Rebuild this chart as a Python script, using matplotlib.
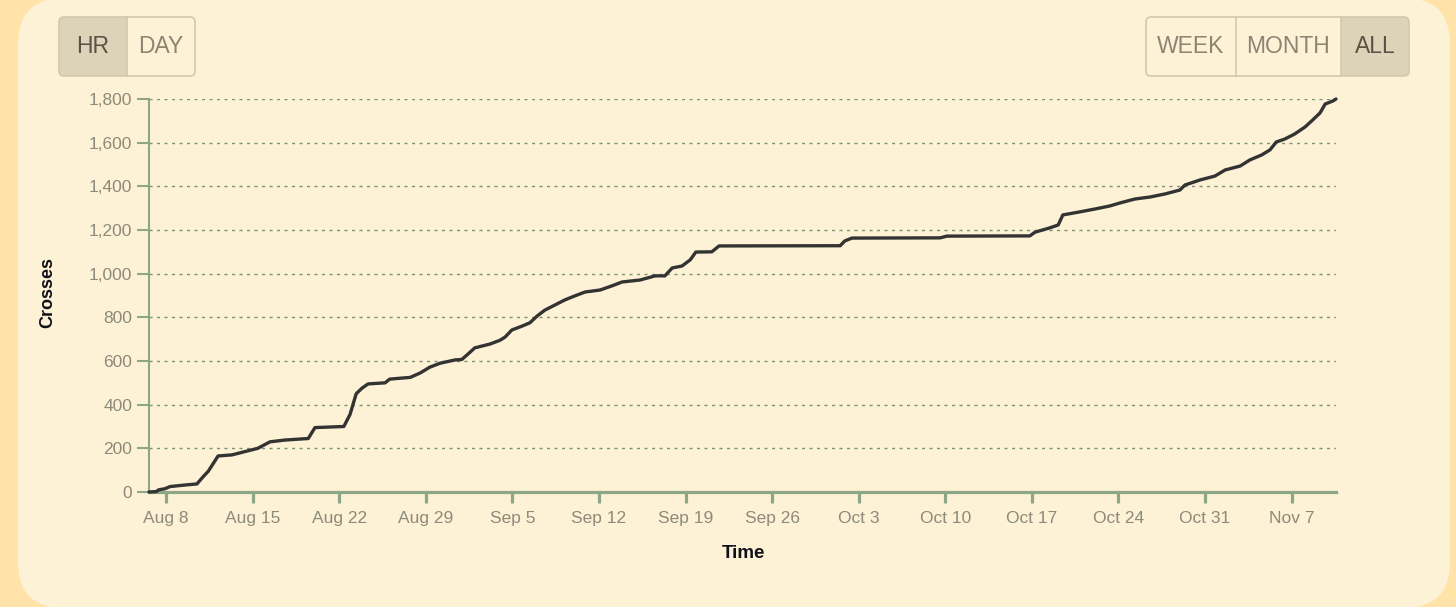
import matplotlib
matplotlib.use("Agg")
import matplotlib.pyplot as plt
from matplotlib.patches import FancyBboxPatch, Rectangle
from matplotlib.transforms import Affine2D
import pandas as pd

# ---------------- data ----------------
times = [
    "2022-08-06 15:00", "2022-08-07 05:00", "2022-08-07 10:00", "2022-08-07 22:00",
    "2022-08-08 08:00", "2022-08-09 13:00", "2022-08-10 12:00", "2022-08-11 00:00",
    "2022-08-11 10:00", "2022-08-12 05:00", "2022-08-13 08:00", "2022-08-14 09:00",
    "2022-08-15 10:00", "2022-08-16 10:00", "2022-08-17 15:00", "2022-08-19 12:00",
    "2022-08-20 01:00", "2022-08-22 09:00", "2022-08-22 21:00", "2022-08-23 09:00",
    "2022-08-23 20:00", "2022-08-24 08:00", "2022-08-25 17:00", "2022-08-26 02:00",
    "2022-08-27 18:00", "2022-08-28 13:00", "2022-08-29 08:00", "2022-08-30 04:00",
    "2022-08-31 09:00", "2022-08-31 22:00", "2022-09-01 10:00", "2022-09-01 23:00",
    "2022-09-03 05:00", "2022-09-04 00:00", "2022-09-04 10:00", "2022-09-04 23:00",
    "2022-09-05 19:00", "2022-09-06 10:00", "2022-09-07 00:00", "2022-09-07 15:00",
    "2022-09-08 11:00", "2022-09-09 06:00", "2022-09-10 01:00", "2022-09-10 21:00",
    "2022-09-12 02:00", "2022-09-13 01:00", "2022-09-13 21:00", "2022-09-15 08:00",
    "2022-09-16 13:00", "2022-09-17 08:00", "2022-09-17 22:00", "2022-09-18 17:00",
    "2022-09-19 09:00", "2022-09-19 20:00", "2022-09-21 03:00", "2022-09-21 17:00",
    "2022-10-01 12:00", "2022-10-01 21:00", "2022-10-02 11:00", "2022-10-09 14:00",
    "2022-10-10 03:00", "2022-10-16 20:00", "2022-10-17 06:00", "2022-10-18 11:00",
    "2022-10-19 03:00", "2022-10-19 12:00", "2022-10-20 21:00", "2022-10-22 02:00",
    "2022-10-23 07:00", "2022-10-24 03:00", "2022-10-25 08:00", "2022-10-26 13:00",
    "2022-10-27 18:00", "2022-10-28 23:00", "2022-10-29 09:00", "2022-10-30 14:00",
    "2022-10-31 19:00", "2022-11-01 15:00", "2022-11-02 20:00", "2022-11-03 15:00",
    "2022-11-04 14:00", "2022-11-05 06:00", "2022-11-05 18:00", "2022-11-06 11:00",
    "2022-11-07 06:00", "2022-11-08 02:00", "2022-11-08 15:00", "2022-11-09 07:00",
    "2022-11-09 17:00", "2022-11-10 08:00", "2022-11-10 14:00",
]
crosses = [
    0, 2, 10, 15,
    25, 32, 37, 70,
    95, 165, 170, 185,
    200, 230, 238, 245,
    295, 300, 355, 450,
    475, 495, 500, 517,
    525, 545, 572, 590,
    605, 607, 632, 660,
    678, 695, 710, 742,
    760, 775, 806, 833,
    857, 880, 898, 916,
    925, 944, 962, 971,
    990, 990, 1026, 1035,
    1063, 1099, 1100, 1127,
    1128, 1150, 1163, 1164,
    1172, 1173, 1190, 1210,
    1223, 1269, 1283, 1296,
    1310, 1324, 1342, 1351,
    1365, 1383, 1406, 1429,
    1447, 1475, 1493, 1521,
    1544, 1567, 1603, 1617,
    1640, 1672, 1700, 1736,
    1777, 1791, 1800,
]
x_tick_dates = ["2022-08-08", "2022-08-15", "2022-08-22", "2022-08-29", "2022-09-05",
                "2022-09-12", "2022-09-19", "2022-09-26", "2022-10-03", "2022-10-10",
                "2022-10-17", "2022-10-24", "2022-10-31", "2022-11-07"]
x_tick_labels = ["Aug 8", "Aug 15", "Aug 22", "Aug 29", "Sep 5", "Sep 12", "Sep 19",
                 "Sep 26", "Oct 3", "Oct 10", "Oct 17", "Oct 24", "Oct 31", "Nov 7"]
y_ticks = [0, 200, 400, 600, 800, 1000, 1200, 1400, 1600, 1800]
y_tick_labels = ["0", "200", "400", "600", "800", "1,000", "1,200", "1,400", "1,600", "1,800"]
left_buttons = ["HR", "DAY"]
right_buttons = ["WEEK", "MONTH", "ALL"]
x_range = ["2022-08-06 15:00", "2022-11-10 14:00"]
y_range = [0, 1800]

# ---------------- style ----------------
W, H = 1456, 607
OUTER = "#FFE3A9"
PANEL = "#FEF2D6"
AXC = "#8EA688"
GRIDC = "#7A9474"
TICKTXT = "#8C8A7A"
BTN_FILL = "#DDD3B8"
BTN_EDGE = "#D3C9AD"
BTN_TXT_ON = "#5A5245"
BTN_TXT_OFF = "#8C8573"

plt.rcParams['font.family'] = ['Liberation Sans', 'DejaVu Sans']

fig = plt.figure(figsize=(W / 100, H / 100), dpi=100, facecolor=OUTER)
# pixel transform with top-left origin
pix = Affine2D().scale(1 / 100, -1 / 100).translate(0, H / 100) + fig.dpi_scale_trans

panel = FancyBboxPatch((18, -2), 1432, 610, boxstyle="round,pad=0,rounding_size=46",
                       transform=pix, facecolor=PANEL, edgecolor="none", zorder=-10)
fig.patches.append(panel)


def button_group(x0, x1, y0, y1, dividers, labels, selected):
    r = 5
    edges = [x0] + dividers + [x1]
    for i, lab in enumerate(labels):
        a, b = edges[i], edges[i + 1]
        if i == selected:
            fig.patches.append(FancyBboxPatch((a, y0), b - a, y1 - y0,
                                              boxstyle=f"round,pad=0,rounding_size={r}",
                                              transform=pix, facecolor=BTN_FILL,
                                              edgecolor="none", zorder=1))
            if i == 0:
                fig.patches.append(Rectangle((b - 2 * r, y0), 2 * r, y1 - y0, transform=pix,
                                             facecolor=BTN_FILL, edgecolor="none", zorder=1))
            if i == len(labels) - 1:
                fig.patches.append(Rectangle((a, y0), 2 * r, y1 - y0, transform=pix,
                                             facecolor=BTN_FILL, edgecolor="none", zorder=1))
        col = BTN_TXT_ON if i == selected else BTN_TXT_OFF
        fig.text((a + b) / 2 / W, 1 - (y0 + y1) / 2 / H, lab, ha="center", va="center",
                 fontsize=16.5, color=col, zorder=3)
    fig.patches.append(FancyBboxPatch((x0, y0), x1 - x0, y1 - y0,
                                      boxstyle=f"round,pad=0,rounding_size={r}",
                                      transform=pix, facecolor="none",
                                      edgecolor=BTN_EDGE, linewidth=1.2, zorder=2))
    for d in dividers:
        fig.lines.append(plt.Line2D([d, d], [y0, y1], transform=pix, color=BTN_EDGE,
                                    linewidth=1.2, zorder=2))


button_group(59, 195, 17, 76, [127], left_buttons, 0)
button_group(1146, 1409, 17, 76, [1236, 1341], right_buttons, 2)

# ---------------- axes ----------------
ax_left, ax_right, ax_top, ax_bot = 149, 1336, 99, 492
ax = fig.add_axes([ax_left / W, 1 - ax_bot / H, (ax_right - ax_left) / W, (ax_bot - ax_top) / H])
ax.set_zorder(5)
ax.set_facecolor("none")

t = pd.to_datetime(times)
ax.plot(t, crosses, color="#333333", linewidth=2.4, solid_joinstyle="round",
        solid_capstyle="round", zorder=3, clip_on=False)

ax.set_xlim(pd.to_datetime(x_range[0]), pd.to_datetime(x_range[1]))
ax.set_ylim(*y_range)

ax.set_xticks(pd.to_datetime(x_tick_dates))
ax.set_xticklabels(x_tick_labels)
ax.set_yticks(y_ticks)
ax.set_yticklabels(y_tick_labels)

for s in ["top", "right"]:
    ax.spines[s].set_visible(False)
ax.spines["left"].set_color(AXC)
ax.spines["left"].set_linewidth(1.5)
ax.spines["bottom"].set_color(AXC)
ax.spines["bottom"].set_linewidth(2.3)
ax.spines["bottom"].set_zorder(2)

ax.tick_params(axis="x", colors=AXC, length=8, width=2.3, pad=6, labelsize=12.5,
               labelcolor=TICKTXT)
ax.tick_params(axis="y", colors=AXC, length=9, width=1.5, pad=3, labelsize=12.5,
               labelcolor=TICKTXT)

for yv in y_ticks[1:]:
    ax.axhline(yv, color=GRIDC, linewidth=1.0, linestyle=(0, (2.2, 3.2)), zorder=1)

fig.text(48 / W, 1 - 292 / H, "Crosses", rotation=90, ha="center", va="center",
         fontsize=13, fontweight="bold", color="#111118")
fig.text(743 / W, 1 - 554 / H, "Time", ha="center", va="center",
         fontsize=13.5, fontweight="bold", color="#111118")

fig.savefig("out.png", dpi=100, facecolor=OUTER)
